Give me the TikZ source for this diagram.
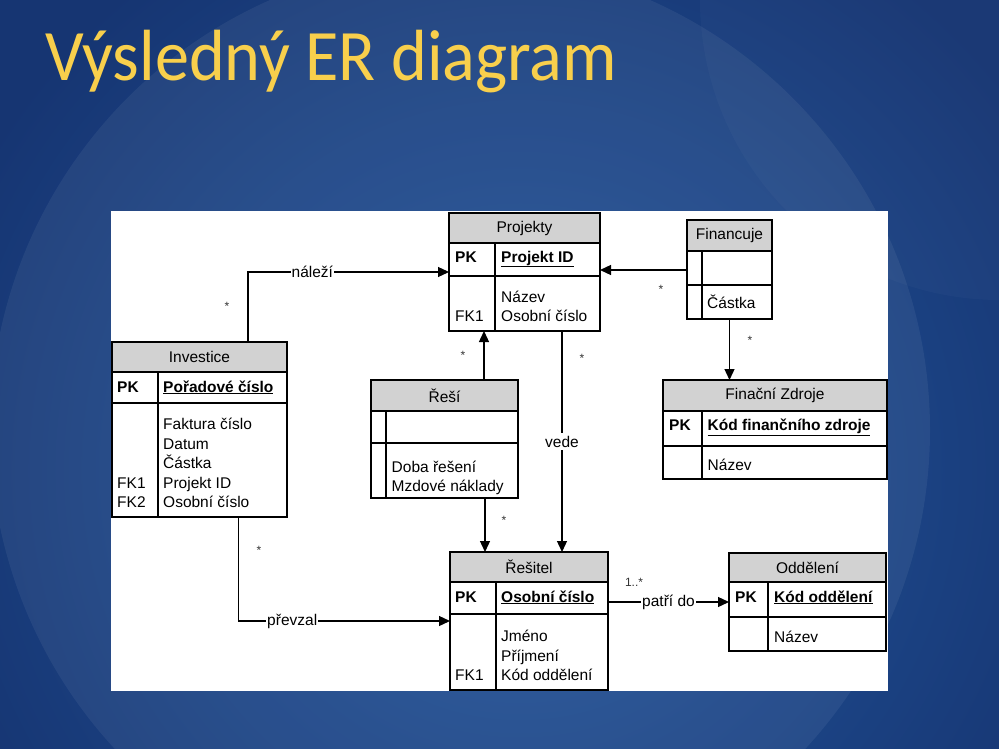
\documentclass[tikz,border=0pt]{standalone}
\usepackage{fontspec}
\setmainfont{Liberation Sans}
\newfontfamily\titlefont{Carlito}
\usetikzlibrary{arrows.meta,fit,calc}
\definecolor{bgdark}{HTML}{163572}
\definecolor{bgmid}{HTML}{2459A0}
\definecolor{hdrgray}{HTML}{D2D2D2}
\definecolor{titlegold}{HTML}{F8CF4C}
\newcommand\ertable[9]{%
  \fill[hdrgray] (#2,#3) rectangle (#4,#6);
  \draw[tblline] (#2,#6) -- (#4,#6);
  \draw[tblline] (#2,#7) -- (#4,#7);
  \draw[tblline] (#8,#6) -- (#8,#5);
  \node[tblbox, fit={(#2,#3) (#4,#5)}] (#1) {};
  \node[hdrtext] at ({(#2+#4)/2},{(#3+#6)/2}) {#9};
}
\begin{document}
\begin{tikzpicture}[x=1pt,y=-1pt,
  tblline/.style={line width=1.4pt,black},
  tblbox/.style={draw=black,line width=1.4pt,inner sep=0pt,outer sep=0pt},
  hdrtext/.style={font=\fontsize{15.5}{18}\selectfont,inner sep=0pt},
  txt/.style={font=\fontsize{15.5}{18}\selectfont,anchor=base west,inner sep=0pt},
  conn/.style={line width=1.3pt,black},
  arr/.style={conn,-{Triangle[length=11pt,width=10pt]}},
  lbl/.style={font=\fontsize{15.5}{18}\selectfont,fill=white,inner sep=1pt},
  star/.style={font=\fontsize{12}{14}\selectfont,inner sep=0pt,text=black!80}]
\useasboundingbox (0,0) rectangle (999,749);
% background
\fill[bgdark] (0,0) rectangle (999,749);
\begin{scope}
\clip (0,0) rectangle (999,749);
\shade[inner color=bgmid,outer color=bgdark] (520,470) circle (620);
\fill[white,opacity=0.06] (460,430) circle (470);
\fill[white,opacity=0.025] (1000,0) circle (300);
\end{scope}
% title
\node[anchor=base west,inner sep=0pt,text=titlegold] (title) at (45,81) {\titlefont\fontsize{72.5}{80}\selectfont\scalebox{0.94}[1]{Výsledný ER diagram}};
% white panel
\fill[white] (111,211) rectangle (888,691);
% tables
\ertable{proj}{449}{213}{600}{331}{243}{276}{495}{Projekty}
\ertable{fin}{687}{220}{772}{319}{251}{285}{702}{Financuje}
\ertable{fz}{663}{380}{887}{479}{411}{446}{702}{Finační Zdroje}
\ertable{inv}{112}{342}{287}{517}{372}{403}{158}{Investice}
\ertable{resi}{371}{380}{518}{498}{411}{443}{386}{Řeší}
\ertable{res}{450}{552}{608}{690}{582}{614}{496}{Řešitel}
\ertable{odd}{729}{553}{886}{651}{582}{617}{768}{Oddělení}
% Projekty text
\node[txt] at (455,262) {\textbf{PK}};
\node[txt] at (501,262) {\underline{\textbf{Projekt ID}}};
\node[txt] at (501,302) {Název};
\node[txt] at (501,321.5) {Osobní číslo};
\node[txt] at (455,321.5) {FK1};
% Financuje
\node[txt] at (707,308.5) {Částka};
% Finacni zdroje
\node[txt] at (669,430.5) {\textbf{PK}};
\node[txt] at (707.5,430.5) {\underline{\textbf{Kód finančního zdroje}}};
\node[txt] at (707.5,470.5) {Název};
% Investice
\node[txt] at (117,392) {\textbf{PK}};
\node[txt] at (163,392) {\underline{\textbf{Pořadové číslo}}};
\node[txt] at (163,429.5) {Faktura číslo};
\node[txt] at (163,449) {Datum};
\node[txt] at (163,468.5) {Částka};
\node[txt] at (163,488) {Projekt ID};
\node[txt] at (163,507) {Osobní číslo};
\node[txt] at (117,488) {FK1};
\node[txt] at (117,507) {FK2};
% Reší
\node[txt] at (391.5,472) {Doba řešení};
\node[txt] at (391.5,491) {Mzdové náklady};
% Resitel
\node[txt] at (455,602) {\textbf{PK}};
\node[txt] at (501,602) {\underline{\textbf{Osobní číslo}}};
\node[txt] at (501,641.5) {Jméno};
\node[txt] at (501,661) {Příjmení};
\node[txt] at (501,680.5) {Kód oddělení};
\node[txt] at (455,680.5) {FK1};
% Oddeleni
\node[txt] at (735,602) {\textbf{PK}};
\node[txt] at (774,602) {\underline{\textbf{Kód oddělení}}};
\node[txt] at (774,642) {Název};
% connectors
\draw[arr] ([xshift=48.5pt]inv.north) |- node[lbl,pos=0.66] {náleží} (proj.west);
\node[star] at (227,306) {*};
\draw[arr] (fin.west |- 0,270) -- (proj.east |- 0,270);
\node[star] at (661,289) {*};
\draw[arr] (fin.south) -- (fin.south |- fz.north);
\node[star] at (750,340) {*};
\draw[arr] ([xshift=37.5pt]proj.south) -- node[lbl,inner xsep=0pt,inner ysep=3pt] {vede} ([xshift=37.5pt]proj.south |- res.north);
\node[star] at (582,358) {*};
\draw[arr] ([xshift=39.5pt]resi.north) -- ([xshift=39.5pt]resi.north |- proj.south);
\node[star] at (463,355) {*};
\draw[arr] ([xshift=40.5pt]resi.south) -- ([xshift=40.5pt]resi.south |- res.north);
\node[star] at (504,520) {*};
\draw[arr] ([xshift=39pt]inv.south) |- node[lbl,pos=0.627] {převzal} (res.west);
\node[star] at (259,550) {*};
\draw[arr] (res.east |- odd.west) -- node[lbl,pos=0.5] {patří do} (odd.west);
\node[font=\fontsize{12}{14}\selectfont,inner sep=0pt,text=black!80] at (634,582) {1..*};
\end{tikzpicture}
\end{document}
